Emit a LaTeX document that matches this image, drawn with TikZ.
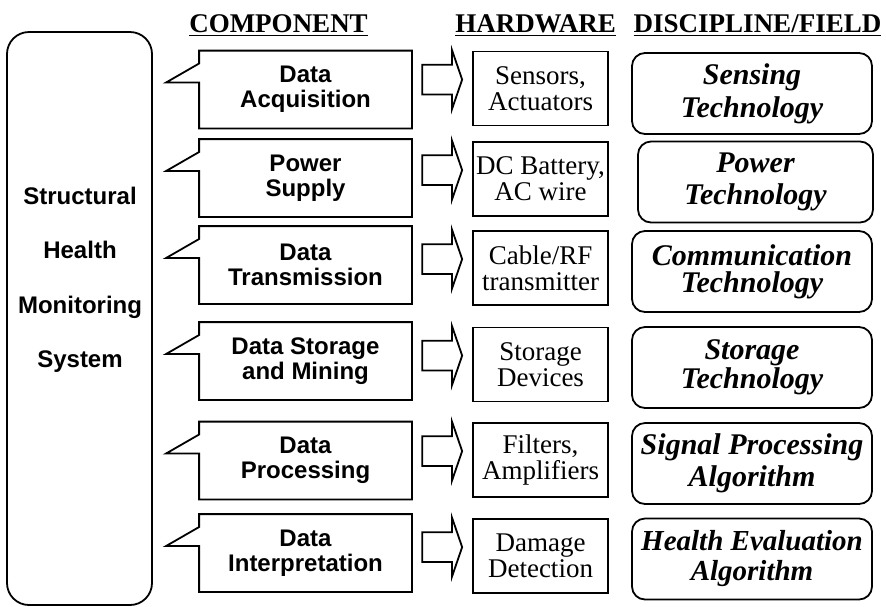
\documentclass[tikz,border=0pt]{standalone}
\usepackage{fontspec}
\setmainfont{Liberation Serif}
\setsansfont{Liberation Sans}
\usetikzlibrary{calc,shapes.arrows}

\begin{document}
\begin{tikzpicture}[x=0.5pt,y=-0.5pt,line width=0.9pt,
  every node/.style={inner sep=0pt},
  head/.style={anchor=base,font=\bfseries\fontsize{13.5}{16}\selectfont},
  comp/.style={minimum width=105.5pt,minimum height=38pt,align=center,font=\sffamily\bfseries\fontsize{12}{12.5}\selectfont},
  hw/.style={draw,minimum width=67.5pt,minimum height=37pt,align=center,font=\fontsize{13.5}{13}\selectfont},
  field/.style 2 args={draw,rounded corners=6.5pt,minimum width=120pt,minimum height=40.5pt,align=center,font=\bfseries\itshape\fontsize{#1}{#2}\selectfont},
  blockarrow/.style={draw,single arrow,inner ysep=7pt,inner xsep=0pt,single arrow head extend=7.25pt,single arrow tip angle=142,minimum height=20pt,anchor=tip}
]
\useasboundingbox (0,0) rectangle (886,606);

% system box
\node[draw,rounded corners=11pt,minimum width=72.5pt,minimum height=286.5pt] (sms) at (79.5,318.5) {};
\node[align=center,font=\sffamily\bfseries\fontsize{12}{27.25}\selectfont] (smstext) at (80,280) {Structural\\Health\\Monitoring\\System};

% headings
\node[head] (hcomp) at (278.5,32) {\underline{COMPONENT}};
\node[head] (hhw) at (535.5,32) {\underline{HARDWARE}};
\node[head] (hfield) at (757.5,32) {\underline{DISCIPLINE/FIELD}};

% components
\node[comp] (c1) at (305.5,89.5) {Data\\Acquisition};
\node[comp] (c2) at (305.5,178) {Power\\Supply};
\node[comp] (c3) at (305.5,265) {Data\\Transmission};
\node[comp] (c4) at (305.5,361) {Data Storage\\and Mining};
\node[comp] (c5) at (305.5,460.5) {Data\\Processing};
\node[comp] (c6) at (305.5,553) {Data\\Interpretation};

\draw (c1.north west) -- (c1.north east) -- (c1.south east) -- (c1.south west) -- ($(c1.west)+(0,-7)$) -- ($(c1.west)+(-33,-7)$) -- ($(c1.west)+(0,-26)$) -- cycle;
\draw (c2.north west) -- (c2.north east) -- (c2.south east) -- (c2.south west) -- ($(c2.west)+(0,-7)$) -- ($(c2.west)+(-33,-7)$) -- ($(c2.west)+(0,-26)$) -- cycle;
\draw (c3.north west) -- (c3.north east) -- (c3.south east) -- (c3.south west) -- ($(c3.west)+(0,-7)$) -- ($(c3.west)+(-33,-7)$) -- ($(c3.west)+(0,-26)$) -- cycle;
\draw (c4.north west) -- (c4.north east) -- (c4.south east) -- (c4.south west) -- ($(c4.west)+(0,-7)$) -- ($(c4.west)+(-33,-7)$) -- ($(c4.west)+(0,-26)$) -- cycle;
\draw (c5.north west) -- (c5.north east) -- (c5.south east) -- (c5.south west) -- ($(c5.west)+(0,-7)$) -- ($(c5.west)+(-33,-7)$) -- ($(c5.west)+(0,-26)$) -- cycle;
\draw (c6.north west) -- (c6.north east) -- (c6.south east) -- (c6.south west) -- ($(c6.west)+(0,-7)$) -- ($(c6.west)+(-33,-7)$) -- ($(c6.west)+(0,-26)$) -- cycle;

% hardware
\node[hw] (h1) at (540.5,88.5) {Sensors,\\Actuators};
\node[hw] (h2) at (540.5,179) {DC Battery,\\AC wire};
\node[hw] (h3) at (540.5,268) {Cable/RF\\transmitter};
\node[hw] (h4) at (540.5,364.5) {Storage\\Devices};
\node[hw] (h5) at (540.5,460) {Filters,\\Amplifiers};
\node[hw] (h6) at (540.5,556) {Damage\\Detection};

\node[blockarrow] (a1) at ($(h1.north west)+(-9,29)$) {};
\node[blockarrow] (a2) at ($(h2.north west)+(-9,29)$) {};
\node[blockarrow] (a3) at ($(h3.north west)+(-9,29)$) {};
\node[blockarrow] (a4) at ($(h4.north west)+(-9,29)$) {};
\node[blockarrow] (a5) at ($(h5.north west)+(-9,29)$) {};
\node[blockarrow] (a6) at ($(h6.north west)+(-9,29)$) {};

% discipline / field
\node[field={15}{16.5}] (f1) at (752,93.5) {Sensing\\Technology};
\node[field={15}{16},minimum width=117.5pt] (f2) at (755.5,182) {Power\\Technology};
\node[field={15}{13.5}] (f3) at (752,271.5) {Communication\\Technology};
\node[field={15}{13}] (f4) at (752,367.5) {Storage\\Technology};
\node[field={15}{16}] (f5) at (752,463.5) {Signal Processing\\Algorithm};
\node[field={14.5}{15}] (f6) at (752,559) {Health Evaluation\\Algorithm};
\end{tikzpicture}
\end{document}
